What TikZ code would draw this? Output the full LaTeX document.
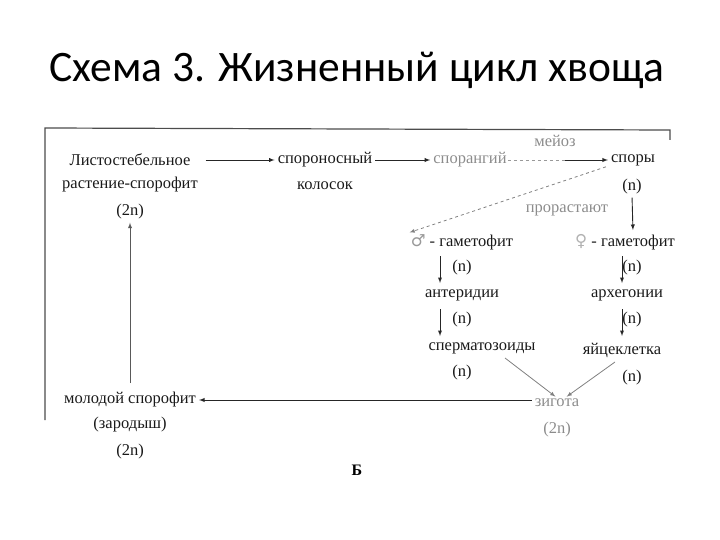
\documentclass[tikz,border=0pt]{standalone}
\usepackage{fontspec}
\setmainfont{Liberation Serif}
\newfontfamily\titlefont{Carlito}
\newfontfamily\symfont{DejaVu Sans}
\begin{document}
\begin{tikzpicture}[x=1pt,y=-1pt,
  t/.style={inner sep=1pt,font=\fontsize{16.5}{17}\selectfont,text=black!90},
  g/.style={t,text=black!45},
  ar/.style={-latex,black!85,line width=0.9pt,shorten >=2pt,shorten <=2pt},
  gar/.style={-latex,black!50,line width=0.8pt,shorten >=2pt}]
\useasboundingbox (0,0) rectangle (720,540);
\node[font=\titlefont\fontsize{43.5}{45}\selectfont] (title) at (357,70) {Схема 3. Жизненный цикл хвоща};
\draw[black!70,line width=1.2pt] (45,420) -- (45,128) -- (670,130) -- (670,140);
\node[t] (l1) at (130,160) {Листостебельное};
\node[t] (l2) at (130,185) {растение-спорофит};
\node[t] (l3) at (130,212) {(2n)};
\node[t] (s1) at (325,160) {спороносный};
\node[t] (s2) at (325,186) {колосок};
\node[g] (sp) at (470,160) {спорангий};
\node[g] (mei) at (555,141) {мейоз};
\node[t] (spo) at (633,160) {споры};
\node[t] (spon) at (632,187) {(n)};
\node[g] (pro) at (567,210) {прорастают};
\node[t] (mg) at (462,242) {{\symfont\color{black!40}♂} - гаметофит};
\node[t] (fg) at (625,242) {{\symfont\color{black!30}♀} - гаметофит};
\node[t] (n1) at (462,268) {(n)};
\node[t] (n2) at (632,268) {(n)};
\node[t] (ant) at (462,295) {антеридии};
\node[t] (arh) at (627,295) {архегонии};
\node[t] (n3) at (462,320) {(n)};
\node[t] (n4) at (632,320) {(n)};
\node[t] (spz) at (482,348) {сперматозоиды};
\node[t] (egg) at (622,350) {яйцеклетка};
\node[t] (n5) at (462,373) {(n)};
\node[t] (n6) at (632,378) {(n)};
\node[g] (zig) at (557,403) {зигота};
\node[g] (zign) at (557,430) {(2n)};
\node[t] (m1) at (130,400) {молодой спорофит};
\node[t] (m2) at (130,425) {(зародыш)};
\node[t] (m3) at (130,452) {(2n)};
\node[font=\bfseries\fontsize{16}{17}\selectfont] (B) at (357,470) {Б};
\draw[ar] ([xshift=12pt]l1.east) -- (s1.west);
\draw[ar] (s1.east) -- (sp.west);
\draw[black!40,dashed] (sp.east) -- (565,160);
\draw[ar,shorten <=0pt] (565,160) -- (spo.west);
\draw[gar,dashed] ([xshift=-4pt]spo.south west) -- ([xshift=-2pt]mg.north west);
\draw[ar] (spon.south) -- (633,232);
\draw[ar] (440,254) -- (440,285);
\draw[ar] (622,254) -- (622,285);
\draw[ar] (440,307) -- (440,338);
\draw[ar] (622,307) -- (622,338);
\draw[gar] (505,358) -- (zig.north);
\draw[gar] (615,362) -- ([xshift=8pt]zig.north);
\draw[ar] (zig.west |- m1) -- (m1.east);
\draw[ar,black!65] (130,385) -- (l3.south);
\end{tikzpicture}
\end{document}
